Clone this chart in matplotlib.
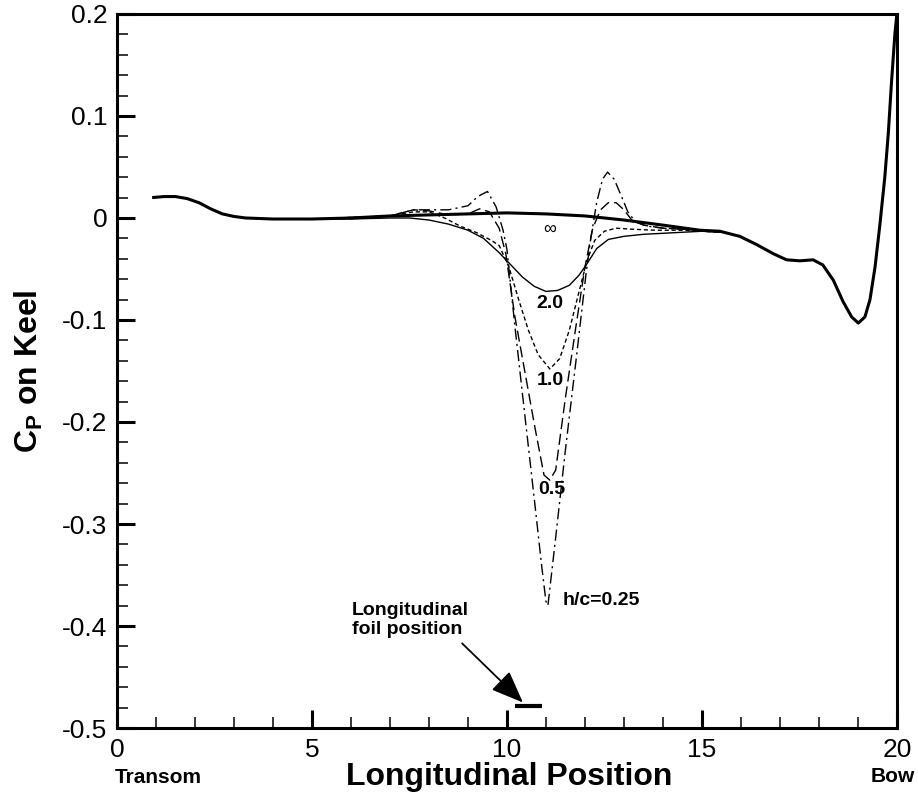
import numpy as np
import matplotlib
matplotlib.use("Agg")
import matplotlib.pyplot as plt
from matplotlib.ticker import MultipleLocator

plt.rcParams['font.family'] = ['Liberation Sans', 'DejaVu Sans']
plt.rcParams['mathtext.fontset'] = 'custom'
plt.rcParams['mathtext.rm'] = 'Liberation Sans'
plt.rcParams['mathtext.bf'] = 'Liberation Sans:bold'

# h/c = infinity (thick line, runs over the whole keel)
x_inf = [0.9, 1.2, 1.5, 1.8, 2.1, 2.4, 2.7, 3.0, 3.3, 4.0, 5.0, 6.0, 7.0, 8.0,
         9.0, 10.0, 11.0, 12.0, 13.0, 14.0, 14.95, 15.46, 15.97, 16.4, 16.83,
         17.17, 17.51, 17.85, 18.1, 18.37, 18.62, 18.84, 19.01, 19.18, 19.31,
         19.44, 19.56, 19.69, 19.78, 19.86, 19.95, 20.0]
cp_inf = [0.020, 0.021, 0.021, 0.019, 0.015, 0.009, 0.004, 0.0015, 0.0, -0.001,
          -0.001, 0.0, 0.002, 0.003, 0.004, 0.005, 0.004, 0.002, -0.002, -0.007,
          -0.012, -0.013, -0.018, -0.026, -0.035, -0.041, -0.042, -0.041, -0.046,
          -0.061, -0.082, -0.097, -0.103, -0.097, -0.080, -0.048, -0.008, 0.040,
          0.083, 0.132, 0.181, 0.200]

# h/c = 2.0 (thin solid)
x_20 = [5.0, 6.0, 7.0, 7.5, 8.0, 8.5, 9.0, 9.4, 9.8, 10.1, 10.4, 10.7, 11.0,
        11.3, 11.6, 11.85, 12.05, 12.3, 12.6, 13.0, 13.5, 14.0, 14.5, 15.0, 15.5]
cp_20 = [-0.001, -0.001, 0.0, 0.0, -0.002, -0.006, -0.012, -0.020, -0.034,
         -0.046, -0.058, -0.067, -0.072, -0.071, -0.066, -0.056, -0.045, -0.030,
         -0.021, -0.018, -0.016, -0.015, -0.014, -0.013, -0.014]

# h/c = 1.0 (short dashes)
x_10 = [5.0, 7.0, 7.6, 8.0, 8.4, 8.8, 9.2, 9.6, 9.8, 10.05, 10.3, 10.55, 10.8,
        11.1, 11.35, 11.6, 11.85, 12.05, 12.25, 12.5, 12.8, 13.2, 13.8, 14.5, 15.5]
cp_10 = [-0.001, 0.002, 0.006, 0.006, 0.000, -0.008, -0.014, -0.022, -0.027,
         -0.048, -0.080, -0.110, -0.134, -0.148, -0.138, -0.110, -0.072, -0.042,
         -0.022, -0.013, -0.010, -0.011, -0.012, -0.012, -0.014]

# h/c = 0.5 (long dashes)
x_05 = [5.0, 7.0, 7.6, 8.0, 8.5, 9.0, 9.3, 9.55, 9.8, 9.97, 10.2, 10.46, 10.72,
        10.95, 11.1, 11.25, 11.5, 11.77, 12.0, 12.2, 12.4, 12.6, 12.8, 13.0,
        13.2, 13.5, 14.0, 15.0, 15.5]
cp_05 = [-0.001, 0.002, 0.008, 0.007, 0.003, 0.004, 0.009, 0.006, -0.010,
         -0.035, -0.096, -0.151, -0.206, -0.252, -0.257, -0.247, -0.176, -0.106,
         -0.048, -0.010, 0.008, 0.015, 0.015, 0.008, -0.002, -0.007, -0.010,
         -0.012, -0.014]

# h/c = 0.25 (dash-dot)
x_025 = [5.0, 7.0, 7.6, 8.0, 8.5, 9.0, 9.25, 9.5, 9.72, 9.9, 10.0, 10.2, 10.46,
         10.72, 10.89, 11.0, 11.05, 11.25, 11.5, 11.77, 12.03, 12.15, 12.3,
         12.45, 12.58, 12.75, 12.95, 13.1, 13.3, 13.6, 14.0, 14.5, 15.0, 15.5]
cp_025 = [-0.001, 0.002, 0.008, 0.008, 0.008, 0.012, 0.021, 0.026, 0.011,
          -0.012, -0.031, -0.105, -0.194, -0.282, -0.341, -0.376, -0.380, -0.313,
          -0.227, -0.140, -0.054, -0.020, 0.015, 0.038, 0.045, 0.038, 0.020,
          0.006, -0.004, -0.008, -0.010, -0.011, -0.012, -0.014]

foil_x = [10.2, 10.9]
foil_y = [-0.478, -0.478]

fig = plt.figure(figsize=(9.18, 7.94), dpi=100)
ax = fig.add_axes([0.1275, 0.0831, 0.8495, 0.8993])

ax.plot(x_20, cp_20, color='k', lw=1.0)
ax.plot(x_10, cp_10, color='k', lw=1.0, dashes=(3, 2))
ax.plot(x_05, cp_05, color='k', lw=1.0, dashes=(8, 3.5))
ax.plot(x_025, cp_025, color='k', lw=1.0, dashes=(8, 3, 1.5, 3))
ax.plot(x_inf, cp_inf, color='k', lw=2.2, solid_capstyle='butt')

# foil position bar and arrow
ax.plot(foil_x, foil_y, color='k', lw=3.0, solid_capstyle='butt')
ax.annotate('', xy=(10.41, -0.475), xytext=(8.85, -0.417),
            arrowprops=dict(arrowstyle='-|>,head_length=0.5,head_width=0.2',
                            color='k', lw=1.3, mutation_scale=40,
                            shrinkA=0, shrinkB=0))
ax.text(6.03, -0.394, 'Longitudinal\nfoil position', fontsize=14,
        fontweight='bold', ha='left', va='center', linespacing=1.15)

# curve labels
ax.text(11.1, -0.011, '\u221e', fontsize=13, ha='center', va='center')
ax.text(11.1, -0.084, '2.0', fontsize=14, fontweight='bold', ha='center', va='center')
ax.text(11.1, -0.159, '1.0', fontsize=14, fontweight='bold', ha='center', va='center')
ax.text(11.15, -0.266, '0.5', fontsize=14, fontweight='bold', ha='center', va='center')
ax.text(11.44, -0.375, 'h/c=0.25', fontsize=14, fontweight='bold', ha='left', va='center')

ax.set_xlim(0, 20)
ax.set_ylim(-0.5, 0.2)
ax.xaxis.set_minor_locator(MultipleLocator(1))
ax.yaxis.set_minor_locator(MultipleLocator(0.02))
ax.set_yticks([-0.5, -0.4, -0.3, -0.2, -0.1, 0, 0.1, 0.2])
ax.set_yticklabels(['-0.5', '-0.4', '-0.3', '-0.2', '-0.1', '0', '0.1', '0.2'])
ax.set_xticks([0, 5, 10, 15, 20])
ax.set_xticklabels(['0', '5', '10', '15', '20'])
ax.tick_params(which='major', direction='in', length=13, width=2.2, labelsize=19)
ax.tick_params(which='minor', direction='in', length=8, width=1.1)
ax.tick_params(axis='x', which='major', pad=7)
ax.tick_params(axis='y', which='major', pad=7)
for s in ax.spines.values():
    s.set_linewidth(2.2)

fig.text(0.031, 0.533, 'C$_\\mathbf{P}$ on Keel', rotation=90, fontsize=23,
         fontweight='bold', ha='center', va='center')
fig.text(0.5545, 0.021, 'Longitudinal Position', fontsize=23, fontweight='bold',
         ha='center', va='center')
fig.text(0.172, 0.021, 'Transom', fontsize=15, fontweight='bold', ha='center', va='center')
fig.text(0.973, 0.022, 'Bow', fontsize=15, fontweight='bold', ha='center', va='center')

fig.savefig('out.png', dpi=100)
